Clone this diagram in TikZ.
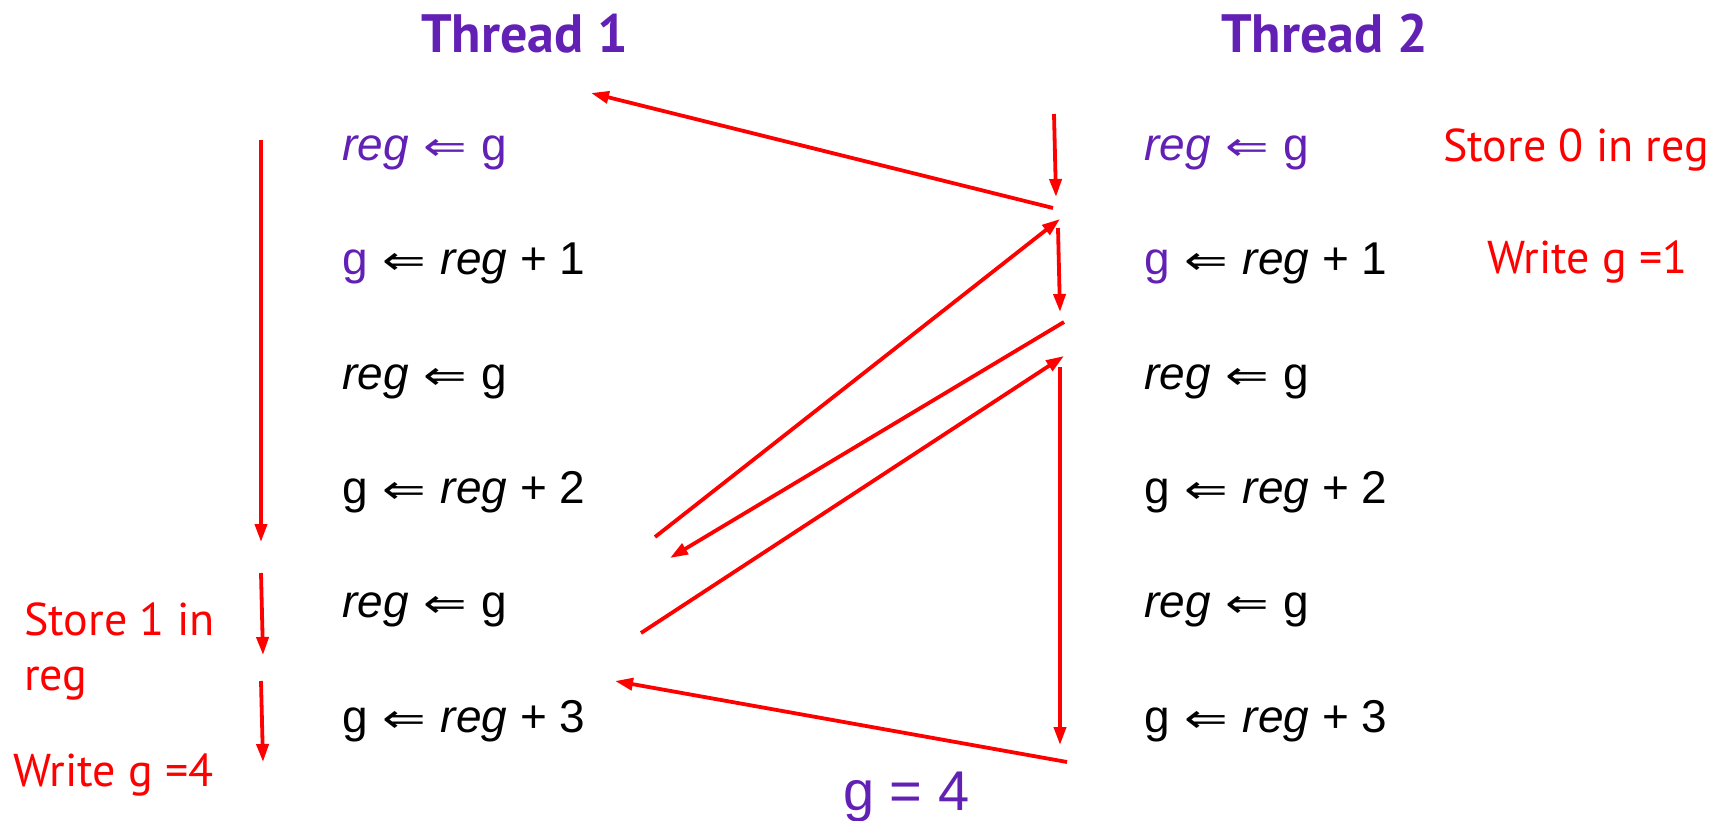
\documentclass[tikz,border=0pt]{standalone}
\usepackage{fontspec}
\usepackage{graphicx}
\setmainfont{Liberation Sans}
\newfontfamily\labfont{PT Sans}
\newfontfamily\symfont{DejaVu Sans}
\usetikzlibrary{arrows.meta}
\definecolor{tpurple}{RGB}{98,33,180}
\definecolor{tred}{RGB}{255,0,0}
\tikzset{
  code/.style={anchor=base west, inner sep=0pt, font=\fontsize{46}{52}\selectfont},
  lab/.style={anchor=base west, inner sep=0pt, text=tred, font=\labfont\fontsize{46}{52}\selectfont},
  head/.style={anchor=base west, inner sep=0pt, text=tpurple, font=\labfont\bfseries\fontsize{54}{60}\selectfont},
  arr/.style={draw=tred, line width=3.8pt, -{Triangle[length=18pt,width=12pt]}},
}
\newcommand{\la}{\hspace{2pt}\scalebox{1.3}[1]{\symfont\fontsize{40}{46}\selectfont ⇐}\hspace{2pt}}
\begin{document}
\begin{tikzpicture}[x=1pt,y=-1pt]
\useasboundingbox (0,0) rectangle (1717,821);
% headers
\node[head] (th1) at (421,53) {Thread 1};
\node[head] (th2) at (1221,53) {Thread 2};
% thread 1
\node[code, text=tpurple] (l1) at (342,161) {\textit{reg} \la{} g};
\node[code] (l2) at (342,275) {\textcolor{tpurple}{g} \la{} \textit{reg} + 1};
\node[code] (l3) at (342,389) {\textit{reg} \la{} g};
\node[code] (l4) at (342,503) {g \la{} \textit{reg} + 2};
\node[code] (l5) at (342,617) {\textit{reg} \la{} g};
\node[code] (l6) at (342,732) {g \la{} \textit{reg} + 3};
% thread 2
\node[code, text=tpurple] (r1) at (1144,161) {\textit{reg} \la{} g};
\node[code] (r2) at (1144,275) {\textcolor{tpurple}{g} \la{} \textit{reg} + 1};
\node[code] (r3) at (1144,389) {\textit{reg} \la{} g};
\node[code] (r4) at (1144,503) {g \la{} \textit{reg} + 2};
\node[code] (r5) at (1144,617) {\textit{reg} \la{} g};
\node[code] (r6) at (1144,732) {g \la{} \textit{reg} + 3};
% labels
\node[lab] (s0) at (1443,162) {Store 0 in reg};
\node[lab] (w1) at (1487,274) {Write g =1};
\node[lab] (s1) at (24,635) {Store 1 in};
\node[lab] (s1b) at (24,690) {reg};
\node[lab] (w4) at (13,786) {Write g =4};
\node[code, text=tpurple, font=\fontsize{56}{62}\selectfont] (g4) at (843,810) {g = 4};
% arrow end points
\coordinate (a1s) at (261,140); \coordinate (a1e) at (261,542);
\coordinate (a2s) at (261,573); \coordinate (a2e) at (263,655);
\coordinate (a3s) at (261,681); \coordinate (a3e) at (263,762);
\coordinate (ts) at (1053,208); \coordinate (te) at (591,93);
\coordinate (b1s) at (1054,114); \coordinate (b1e) at (1056,197);
\coordinate (d1s) at (655,537); \coordinate (d1e) at (1060,219);
\coordinate (b2s) at (1058,228); \coordinate (b2e) at (1060,312);
\coordinate (d2s) at (1064,322); \coordinate (d2e) at (670,558);
\coordinate (d3s) at (641,633); \coordinate (d3e) at (1064,356);
\coordinate (b3s) at (1060,367); \coordinate (b3e) at (1060,745);
\coordinate (bs) at (1067,762); \coordinate (be) at (615,681);
\draw[arr] (a1s) -- (a1e);
\draw[arr] (a2s) -- (a2e);
\draw[arr] (a3s) -- (a3e);
\draw[arr] (ts) -- (te);
\draw[arr] (b1s) -- (b1e);
\draw[arr] (d1s) -- (d1e);
\draw[arr] (b2s) -- (b2e);
\draw[arr] (d2s) -- (d2e);
\draw[arr] (d3s) -- (d3e);
\draw[arr] (b3s) -- (b3e);
\draw[arr] (bs) -- (be);
\end{tikzpicture}
\end{document}
